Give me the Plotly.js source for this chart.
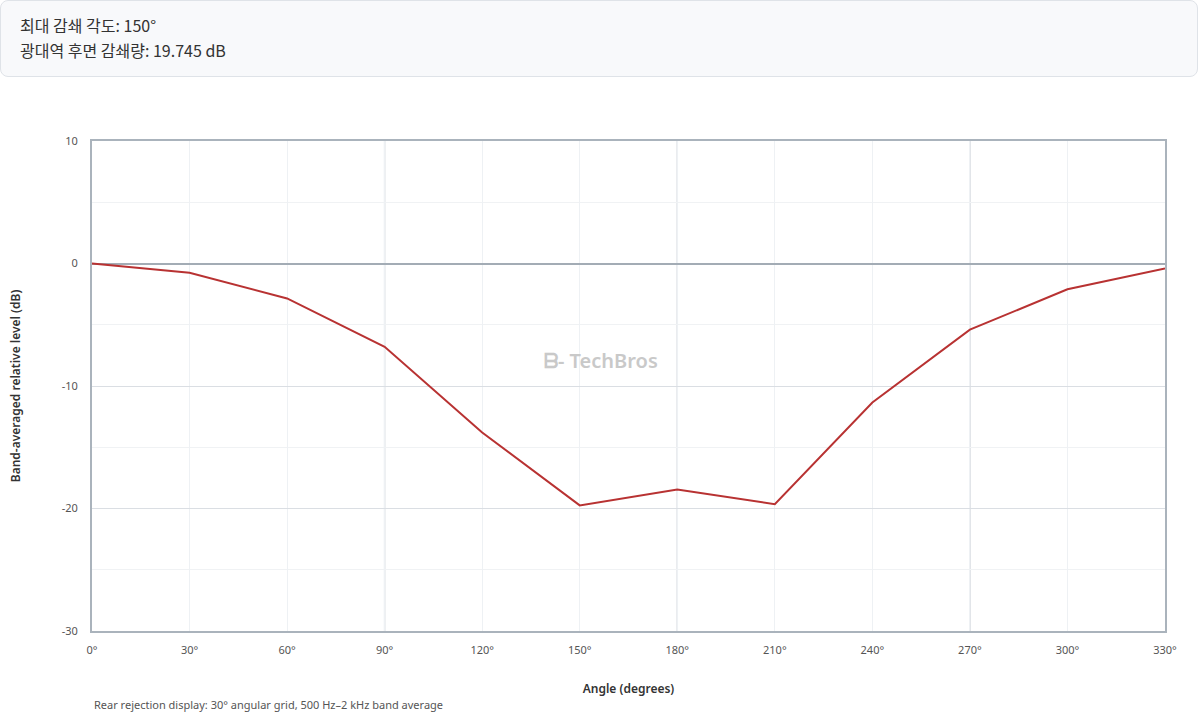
<!DOCTYPE html>
<html>
<head>
<meta charset="utf-8">
<script src="https://cdn.plot.ly/plotly-3.0.1.min.js"></script>
<style>
  body { margin: 0; background: #fff; font-family: "Noto Sans CJK KR", "Noto Sans", sans-serif; }
  #summary {
    position: absolute; left: 0; top: 0; width: 1196px; height: 75px;
    background: #f8f9fb; border: 1px solid #dfe3e8; border-radius: 8px;
    box-sizing: content-box;
  }
  #summary div { position: absolute; left: 19px; font-size: 16px; color: #333; }
  #chart_div { position: absolute; left: 0; top: 80px; width: 1200px; height: 636px; }
</style>
</head>
<body>
<div id="summary">
  <div id="line1" style="top:12px"></div>
  <div id="line2" style="top:37px"></div>
</div>
<div id="chart_div"></div>
<script>
// angles in degrees and band-averaged level in dB
var angles = [0, 30, 60, 90, 120, 150, 180, 210, 240, 270, 300, 330];
var levels = [0, -0.75, -2.85, -6.8, -13.8, -19.745, -18.45, -19.65, -11.35, -5.4, -2.1, -0.4];
var tick_angles = [0, 30, 60, 90, 120, 150, 180, 210, 240, 270, 300, 330];
var tick_labels = tick_angles.map(function (a) { return a + "°"; });
var major_angles = [90, 180, 270];
var level_ticks = [10, 0, -10, -20, -30];
var level_labels = level_ticks.map(function (v) { return String(v); });

// find the angle with the deepest rejection
var min_i = 0;
for (var i = 1; i < levels.length; i++) {
	if (levels[i] < levels[min_i]) min_i = i;
}
document.getElementById("line1").textContent = "최대 감쇄 각도: " + angles[min_i] + "°";
document.getElementById("line2").textContent = "광대역 후면 감쇄량: " + (-levels[min_i]).toFixed(3) + " dB";

var trace = {
	x: angles,
	y: levels,
	mode: 'lines',
	type: 'scatter',
	line: { color: '#b83232', width: 2 },
	hoverinfo: 'x+y'
};

//darker vertical lines every 90 degrees
var shapes = major_angles.map(function (a) {
	return {
		type: 'line', xref: 'x', yref: 'paper', x0: a, x1: a, y0: 0, y1: 1,
		line: { color: '#d3d8de', width: 1.5 }, layer: 'below'
	};
});

var layout = {
	margin: { l: 92, r: 35, t: 61, b: 85 },
	paper_bgcolor: '#fff',
	plot_bgcolor: '#fff',
	font: { family: '"Noto Sans", "Open Sans", sans-serif', size: 11, color: '#555' },
	showlegend: false,
	shapes: shapes,
	xaxis: {
		range: [0, 330],
		tickmode: 'array',
		tickvals: tick_angles,
		ticktext: tick_labels,
		showgrid: true,
		gridcolor: '#eef1f4',
		gridwidth: 1,
		zeroline: false,
		showline: true,
		mirror: true,
		linecolor: '#aab3bc',
		linewidth: 2,
		ticks: '',
		ticklabelstandoff: 8,
		tickfont: { size: 11, color: '#555' },
		title: {
			text: 'Angle (degrees)',
			standoff: 28,
			font: { size: 12, color: '#333', weight: 600 }
		}
	},
	yaxis: {
		range: [-30, 10],
		tickmode: 'array',
		tickvals: level_ticks,
		ticktext: level_labels,
		showgrid: true,
		gridcolor: '#dadee3',
		gridwidth: 1,
		minor: { tickmode: 'linear', tick0: 0, dtick: 5, showgrid: true, gridcolor: '#f0f2f4', gridwidth: 1 },
		zeroline: true,
		zerolinecolor: '#a3acb5',
		zerolinewidth: 2,
		showline: true,
		mirror: true,
		linecolor: '#aab3bc',
		linewidth: 2,
		ticks: '',
		ticklabelstandoff: 10,
		tickfont: { size: 11, color: '#555' },
		title: {
			text: 'Band-averaged relative level (dB)',
			standoff: 38,
			font: { size: 12, color: '#333', weight: 600 }
		}
	},
	annotations: [
		{
			text: 'Rear rejection display: 30° angular grid, 500 Hz–2 kHz band average',
			xref: 'paper', yref: 'paper', x: 0, y: -0.151,
			xanchor: 'left', yanchor: 'middle', showarrow: false,
			font: { size: 11, color: '#555' }
		},
		{
			text: '<b>ᗷ</b>- TechBros',
			xref: 'paper', yref: 'paper', x: 0.474, y: 0.553,
			xanchor: 'center', yanchor: 'middle', showarrow: false,
			font: { size: 20, color: '#c9c9c9', weight: 600 }
		}
	]
};

Plotly.newPlot('chart_div', [trace], layout, { displayModeBar: false });
</script>
</body>
</html>
